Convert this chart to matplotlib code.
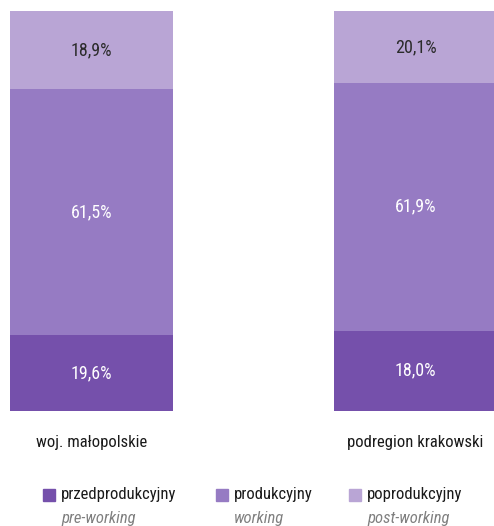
import matplotlib
matplotlib.use("Agg")
import matplotlib.pyplot as plt
from matplotlib.patches import Rectangle

########################################################################
# Dados
########################################################################
categorias = ["woj. małopolskie", "podregion krakowski"]
przed = [19.6, 18.0]
prod = [61.5, 61.9]
poprod = [18.9, 20.1]
serie_pl = ["przedprodukcyjny", "produkcyjny", "poprodukcyjny"]
serie_en = ["pre-working", "working", "post-working"]

cores = ["#7550ab", "#967bc3", "#b9a5d5"]
cores_txt = ["white", "white", "#2b2b2b"]

plt.rcParams["font.family"] = ["Roboto Condensed", "Roboto", "DejaVu Sans"]

########################################################################
# Figura
########################################################################
W, H = 494, 526
fig = plt.figure(figsize=(W / 100, H / 100), dpi=100)
ax = fig.add_axes([10 / W, 1 - 411 / H, 484 / W, 400 / H])

x = list(range(len(categorias)))
larg = 0.503

# no original as alturas do primeiro e do ultimo segmento estao trocadas
# em relacao aos rotulos; mantido assim para reproduzir a figura
alturas = [poprod, prod, przed]
rotulos = [przed, prod, poprod]
base = [0.0] * len(x)
for h, rot, cor, ct in zip(alturas, rotulos, cores, cores_txt):
    ax.bar(x, h, width=larg, bottom=base, color=cor, linewidth=0)
    for i, v in enumerate(rot):
        ax.text(x[i], base[i] + h[i] / 2, f"{v:.1f}%".replace(".", ","),
                ha="center", va="center", fontsize=13, color=ct)
    base = [b + v for b, v in zip(base, h)]

ax.set_xlim(-larg / 2, 1.242)
ax.set_ylim(0, 100)
ax.set_xticks(x)
ax.set_xticklabels(categorias, fontsize=12, color="#1a1a1a")
ax.tick_params(axis="x", length=0, pad=17)
ax.set_yticks([])
for s in ax.spines.values():
    s.set_visible(False)

########################################################################
# Legenda
########################################################################
leg_x = [43, 216, 349]
for lx, cor, pl, en in zip(leg_x, cores, serie_pl, serie_en):
    fig.patches.append(Rectangle((lx / W, 1 - 501 / H), 12 / W, 12 / H,
                                 transform=fig.transFigure, color=cor))
    fig.text((lx + 18) / W, 1 - 495 / H, pl, fontsize=12,
             color="#1a1a1a", va="center")
    fig.text((lx + 18) / W, 1 - 518 / H, en, fontsize=12,
             color="#808080", style="italic", va="center")

fig.savefig("out.png", dpi=100)
